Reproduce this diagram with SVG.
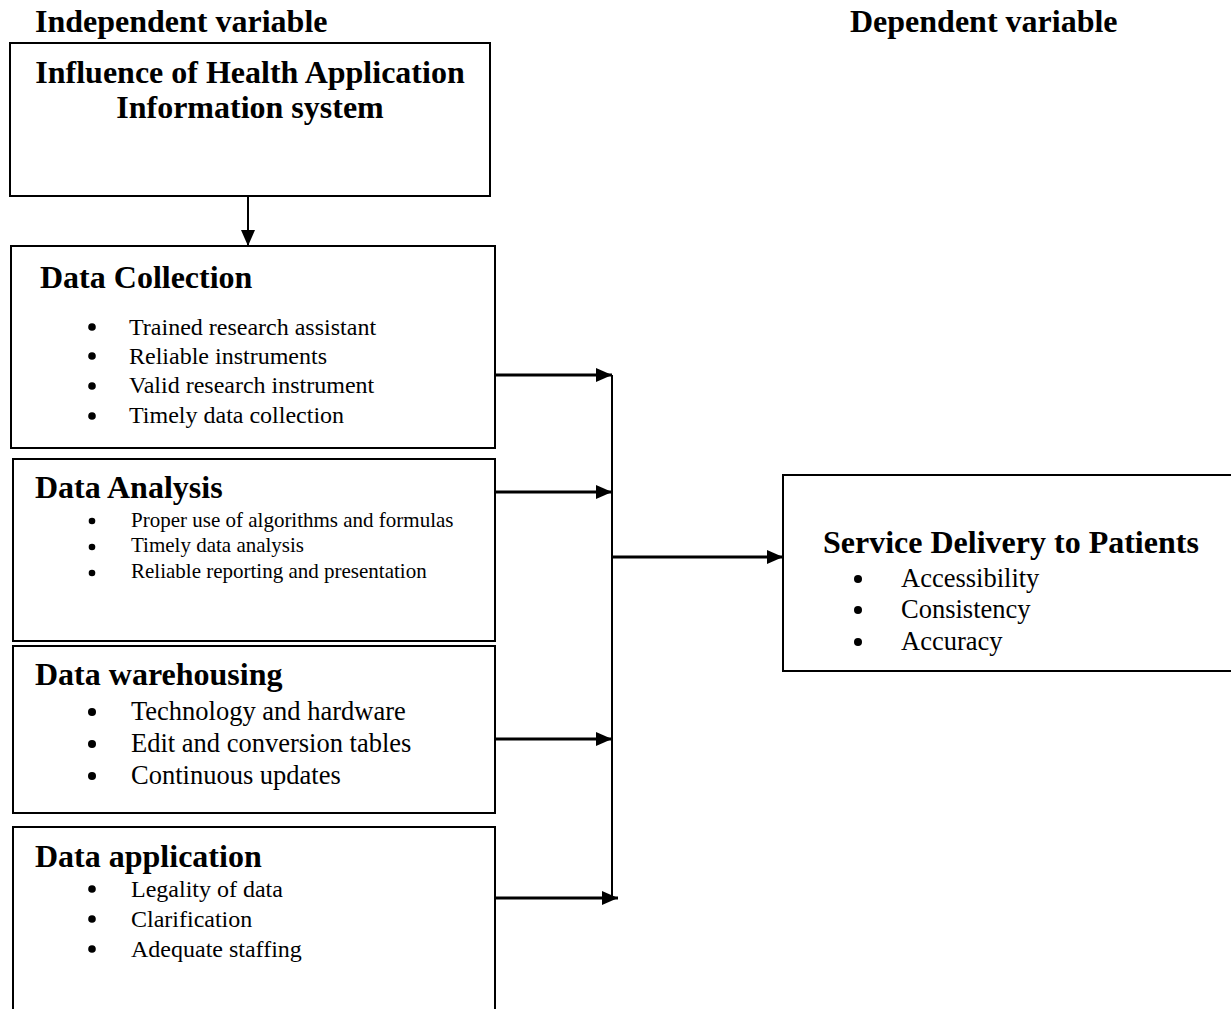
<svg xmlns="http://www.w3.org/2000/svg" width="1231" height="1009" viewBox="0 0 1231 1009">
<defs>
<marker id="ahb" viewBox="0 0 16 14" refX="16" refY="7" markerWidth="16" markerHeight="14" markerUnits="userSpaceOnUse" orient="auto">
<path d="M0,0 L16,7 L0,14 z" fill="#000"/>
</marker>
</defs>
<style>
text{font-family:"Liberation Serif","Times New Roman",serif;fill:#000}
.h{font-weight:bold;font-size:32px}
.lab{font-weight:bold;font-size:32px}
.box{fill:#fff;stroke:#000;stroke-width:2}
.ln{stroke:#000;stroke-width:3;fill:none}
.vl{stroke:#000;stroke-width:2;fill:none}
.b24{font-size:24px}
.b21{font-size:21px}
.b26{font-size:26.5px}
</style>
<rect width="1231" height="1009" fill="#fff"/>
<text class="lab" x="35" y="32">Independent variable</text>
<text class="lab" x="850" y="32">Dependent variable</text>

<g id="connectors">
<line class="vl" x1="248" y1="196" x2="248" y2="246" marker-end="url(#ahb)"/>
<line class="ln" x1="495" y1="375" x2="612" y2="375" marker-end="url(#ahb)"/>
<line class="ln" x1="495" y1="492" x2="612" y2="492" marker-end="url(#ahb)"/>
<line class="ln" x1="495" y1="739" x2="612" y2="739" marker-end="url(#ahb)"/>
<line class="ln" x1="495" y1="898" x2="618" y2="898" marker-end="url(#ahb)"/>
<line class="vl" x1="612" y1="375" x2="612" y2="898"/>
<line class="ln" x1="612" y1="557" x2="783" y2="557" marker-end="url(#ahb)"/>
</g>

<g id="n-influence">
<rect class="box" x="10" y="43" width="480" height="153"/>
<text class="h" x="250" y="83" text-anchor="middle">Influence of Health Application</text>
<text class="h" x="250" y="118" text-anchor="middle">Information system</text>
</g>

<g id="n-collection">
<rect class="box" x="11" y="246" width="484" height="202"/>
<text class="h" x="40" y="288">Data Collection</text>
<g class="b24">
<circle cx="92" cy="327" r="3.8"/><text x="129" y="335">Trained research assistant</text>
<circle cx="92" cy="356" r="3.8"/><text x="129" y="364">Reliable instruments</text>
<circle cx="92" cy="386" r="3.8"/><text x="129" y="393">Valid research instrument</text>
<circle cx="92" cy="416" r="3.8"/><text x="129" y="423">Timely data collection</text>
</g>
</g>

<g id="n-analysis">
<rect class="box" x="13" y="459" width="482" height="182"/>
<text class="h" x="35" y="498">Data Analysis</text>
<g class="b21">
<circle cx="92" cy="521" r="3.3"/><text x="131" y="527">Proper use of algorithms and formulas</text>
<circle cx="92" cy="547" r="3.3"/><text x="131" y="552">Timely data analysis</text>
<circle cx="92" cy="573" r="3.3"/><text x="131" y="578">Reliable reporting and presentation</text>
</g>
</g>

<g id="n-warehousing">
<rect class="box" x="13" y="646" width="482" height="167"/>
<text class="h" x="35" y="685">Data warehousing</text>
<g class="b26">
<circle cx="92" cy="712" r="4"/><text x="131" y="720">Technology and hardware</text>
<circle cx="92" cy="744" r="4"/><text x="131" y="752">Edit and conversion tables</text>
<circle cx="92" cy="776" r="4"/><text x="131" y="784">Continuous updates</text>
</g>
</g>

<g id="n-application">
<rect class="box" x="13" y="827" width="482" height="200"/>
<text class="h" x="35" y="867">Data application</text>
<g class="b24">
<circle cx="92" cy="889" r="3.8"/><text x="131" y="897">Legality of data</text>
<circle cx="92" cy="919" r="3.8"/><text x="131" y="927">Clarification</text>
<circle cx="92" cy="949" r="3.8"/><text x="131" y="957">Adequate staffing</text>
</g>
</g>

<g id="n-service">
<rect class="box" x="783" y="475" width="460" height="196"/>
<text class="h" x="823" y="553">Service Delivery to Patients</text>
<g class="b26">
<circle cx="858" cy="579" r="4"/><text x="901" y="587">Accessibility</text>
<circle cx="858" cy="610" r="4"/><text x="901" y="618">Consistency</text>
<circle cx="858" cy="642" r="4"/><text x="901" y="650">Accuracy</text>
</g>
</g>
</svg>
